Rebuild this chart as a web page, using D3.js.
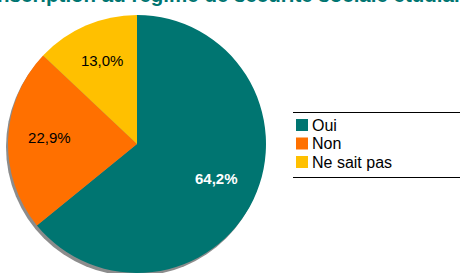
<!DOCTYPE html>
<html>
<head>
<meta charset="utf-8">
<script src="https://cdn.jsdelivr.net/npm/d3@7"></script>
<style>
  body { margin: 0; background: #fff; }
  svg { display: block; font-family: "Liberation Sans", Arial, sans-serif; }
</style>
</head>
<body>
<div id="main-container"></div>
<script>
const categories = ['Oui', 'Non', 'Ne sait pas'];
const values = [64.2, 22.9, 13.0];
const labels = ['64,2%', '22,9%', '13,0%'];
const colors = ['#007571', '#ff7000', '#ffc000'];
const title = 'Inscription au régime de sécurité sociale étudiante';

const width = 460;
const height = 273;
const cx = 137;
const cy = 144;
const radius = 129;

const svg = d3.select('#main-container').append('svg')
  .attr('width', width).attr('height', height);

svg.append('text').text(title)
  .attr('x', 238).attr('y', 2)
  .attr('text-anchor', 'middle')
  .style('font-size', '20.5px').style('font-weight', 'bold')
  .attr('fill', '#007571');

const pie = d3.pie().sort(null).value(d => d)
const arcs = pie(values)
const arc = d3.arc().innerRadius(0).outerRadius(radius)
const labelArc = d3.arc().innerRadius(radius * 0.68).outerRadius(radius * 0.68)

// shadow
svg.append('circle').attr('cx', cx - 2).attr('cy', cy + 3).attr('r', radius)
  .attr('fill', '#8c8c8c')

const g = svg.append('g').attr('transform', `translate(${cx},${cy})`)
g.selectAll('path').data(arcs).enter().append('path')
  .attr('d', arc)
  .attr('fill', (d, i) => colors[i])

g.selectAll('text').data(arcs).enter().append('text')
  .text((d, i) => labels[i])
  .attr('transform', d => { const c = labelArc.centroid(d); return `translate(${c[0]},${c[1] - 3})` })
  .attr('text-anchor', 'middle')
  .attr('dy', '0.35em')
  .style('font-size', '15px')
  .style('font-weight', (d, i) => i === 0 ? 'bold' : 'normal')
  .attr('fill', (d, i) => i === 0 ? '#fff' : '#000')

// legend
const legend = svg.append('g')
const rowY = d3.scalePoint().domain(categories).range([125, 162])
legend.append('line').attr('x1', 293).attr('x2', 460).attr('y1', 112.5).attr('y2', 112.5)
  .attr('stroke', '#000').attr('stroke-width', 1)
legend.append('line').attr('x1', 293).attr('x2', 460).attr('y1', 177.5).attr('y2', 177.5)
  .attr('stroke', '#000').attr('stroke-width', 1)
legend.selectAll('rect').data(categories).enter().append('rect')
  .attr('x', 296).attr('y', d => rowY(d) - 6)
  .attr('width', 12).attr('height', 12)
  .attr('fill', (d, i) => colors[i])
legend.selectAll('text.item').data(categories).enter().append('text')
  .attr('class', 'item')
  .text(d => d)
  .attr('x', 312).attr('y', d => rowY(d) + 5.5)
  .style('font-size', '16px').attr('fill', '#000')
</script>
</body>
</html>
